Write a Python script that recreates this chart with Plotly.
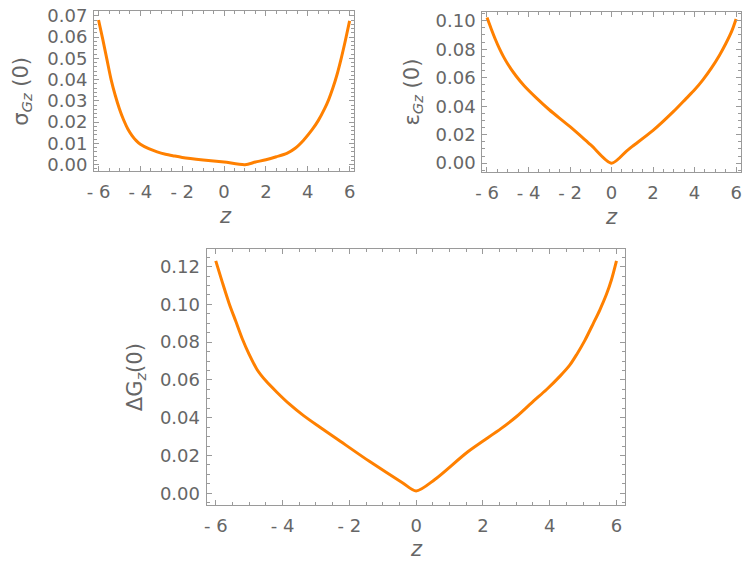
import plotly.graph_objects as go

# ---- data ----
sigma_z = [-6.0, -5.8, -5.6, -5.4, -5.2, -5.0, -4.8, -4.6, -4.4, -4.2, -4.0, -3.6, -3.2, -2.8, -2.4, -2.0, -1.0,
           0.0, 1.0, 1.5, 2.0, 2.5, 3.0, 3.4, 3.8, 4.2, 4.5, 4.8, 5.0, 5.2, 5.4, 5.6, 5.8, 6.0]
sigma_v = [0.068, 0.059, 0.0495, 0.040, 0.0325, 0.0262, 0.021, 0.0168, 0.0137, 0.0113, 0.0096, 0.0075, 0.0060,
           0.0049, 0.0041, 0.0034, 0.0022, 0.0012, 0.0, 0.0012, 0.0023, 0.0037, 0.0053, 0.0077, 0.0115, 0.0163,
           0.0207, 0.0262, 0.0306, 0.0360, 0.0424, 0.0500, 0.0585, 0.0676]

eps_z = [-6.0, -5.8, -5.6, -5.4, -5.2, -5.0, -4.6, -4.2, -3.6, -3.0, -2.0, -1.0, 0.0,
         0.72, 1.0, 2.0, 3.0, 3.6, 4.0, 4.4, 4.8, 5.2, 5.5, 5.8, 6.0]
eps_v = [0.1022, 0.0944, 0.087, 0.0804, 0.0746, 0.0696, 0.0612, 0.0542, 0.0455, 0.0375, 0.0256, 0.0128, 0.0,
         0.0085, 0.0118, 0.023, 0.0365, 0.0455, 0.0515, 0.0585, 0.0665, 0.0758, 0.0838, 0.0930, 0.1012]

delta_z = [-6.0, -5.8, -5.6, -5.4, -5.2, -5.0, -4.76, -4.5, -4.17, -3.8, -3.37, -2.9, -2.39, -1.4, -0.41, 0.0,
           0.56, 1.55, 2.54, 3.0, 3.52, 3.9, 4.31, 4.6, 4.81, 5.05, 5.3, 5.5, 5.7, 5.85, 6.0]
delta_v = [0.123, 0.1115, 0.1005, 0.091, 0.0815, 0.0735, 0.0654, 0.0595, 0.0535, 0.0473, 0.0411, 0.0352, 0.029,
           0.0169, 0.0056, 0.0012, 0.0073, 0.022, 0.0342, 0.0405, 0.0489, 0.0548, 0.062, 0.0678, 0.0735, 0.0808,
           0.0897, 0.097, 0.1053, 0.113, 0.123]

x_tickvals = [-6, -4, -2, 0, 2, 4, 6]
x_ticktext = ["- 6", "- 4", "- 2", "0", "2", "4", "6"]

# ---- styling ----
W, H = 750, 563
ORANGE = "#FF8000"
FRAME = "#9a9a9a"
TXT = "#666666"
FONT = "DejaVu Sans"
FS = 18
TFS = 21

fig = go.Figure()
for zs, vs, xa, ya in [(sigma_z, sigma_v, "x", "y"), (eps_z, eps_v, "x2", "y2"), (delta_z, delta_v, "x3", "y3")]:
    fig.add_trace(go.Scatter(x=zs, y=vs, mode="lines",
                             line=dict(color=ORANGE, width=3, shape="spline", smoothing=0.8),
                             xaxis=xa, yaxis=ya, showlegend=False))


def px_x(p):
    return p / W


def px_y(p):
    return 1 - p / H


def xaxis(dom, rng, anchor):
    return dict(domain=[px_x(dom[0]), px_x(dom[1])], range=rng, anchor=anchor,
                showline=True, linecolor=FRAME, linewidth=1, mirror="allticks",
                ticks="inside", ticklen=5, tickcolor=FRAME, tickwidth=1,
                tickmode="array", tickvals=x_tickvals, ticktext=x_ticktext,
                minor=dict(ticks="inside", ticklen=3, tickcolor=FRAME, tickmode="linear", tick0=0, dtick=0.5),
                showgrid=False, zeroline=False, ticklabelstandoff=4,
                tickfont=dict(family=FONT, size=FS, color=TXT))


def yaxis(dom, rng, anchor, dtick, mdtick):
    return dict(domain=[px_y(dom[1]), px_y(dom[0])], range=rng, anchor=anchor,
                showline=True, linecolor=FRAME, linewidth=1, mirror="allticks",
                ticks="inside", ticklen=5, tickcolor=FRAME, tickwidth=1,
                tickmode="linear", tick0=0, dtick=dtick, tickformat=".2f",
                minor=dict(ticks="inside", ticklen=3, tickcolor=FRAME, tickmode="linear", tick0=0, dtick=mdtick),
                showgrid=False, zeroline=False, ticklabelstandoff=2,
                tickfont=dict(family=FONT, size=FS, color=TXT))


fig.update_layout(
    width=W, height=H,
    margin=dict(l=0, r=0, t=0, b=0),
    paper_bgcolor="white", plot_bgcolor="white",
    xaxis=xaxis((88, 351), [-6.22, 6.2], "y"),
    yaxis=yaxis((5, 168), [-0.003, 0.0723], "x", 0.01, 0.002),
    xaxis2=xaxis((481, 743), [-6.23, 6.24], "y2"),
    yaxis2=yaxis((6, 169), [-0.0062, 0.1062], "x2", 0.02, 0.005),
    xaxis3=xaxis((202, 626), [-6.275, 6.27], "y3"),
    yaxis3=yaxis((247, 508), [-0.0062, 0.1295], "x3", 0.02, 0.005),
)

ann_font = dict(family=FONT, size=TFS, color=TXT)
annotations = [
    dict(text="<i>z</i>", x=px_x(221), y=px_y(214)),
    dict(text="<i>z</i>", x=px_x(612), y=px_y(215)),
    dict(text="<i>z</i>", x=px_x(414.5), y=px_y(553)),
    dict(text="σ<sub><i>Gz</i></sub> (0)", x=px_x(15), y=px_y(86.5), textangle=-90),
    dict(text="ε<sub><i>Gz</i></sub> (0)", x=px_x(411), y=px_y(88), textangle=-90),
    dict(text="ΔG<sub><i>z</i></sub>(0)", x=px_x(130), y=px_y(377.5), textangle=-90),
]
for a in annotations:
    fig.add_annotation(xref="paper", yref="paper", showarrow=False, xanchor="center", yanchor="middle",
                       font=ann_font, **a)

fig.write_html("out.html")
